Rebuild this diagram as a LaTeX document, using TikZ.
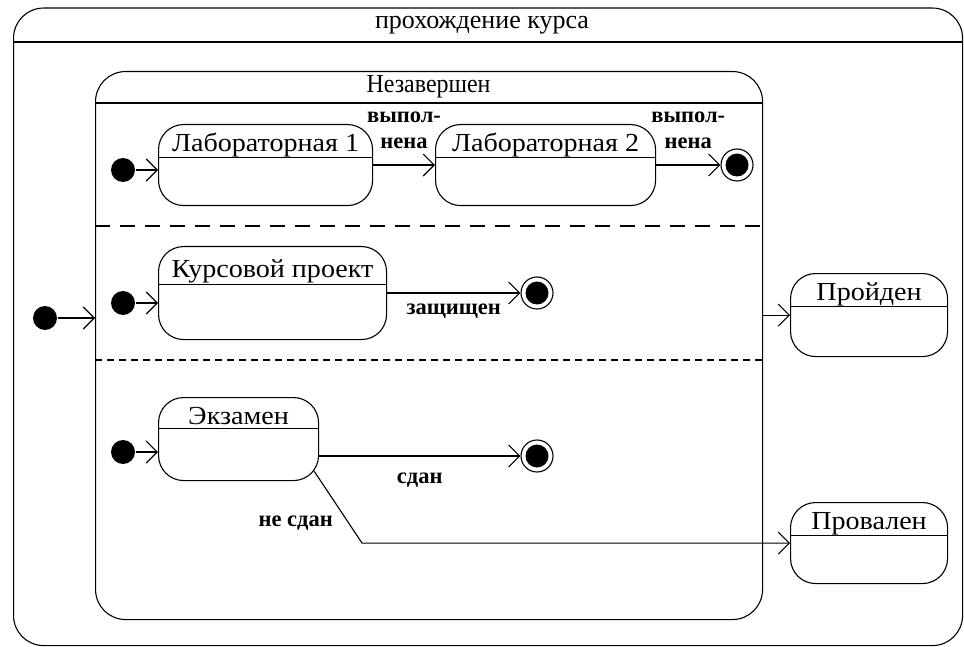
\documentclass[tikz,border=0pt]{standalone}
\usepackage{fontspec}
\setmainfont{Liberation Serif}
\newfontfamily\statefont{Liberation Serif}[FakeStretch=1.08]
\newfontfamily\narrowfont{Liberation Serif}[FakeStretch=0.92]
\usetikzlibrary{arrows.meta,positioning}
\begin{document}
\begin{tikzpicture}[
        x=1pt, y=-1pt,
        line width=1.1pt,
        font=\fontsize{26}{30}\selectfont,
        box/.style={draw, rounded corners=30pt, anchor=north west, inner sep=0pt},
        state/.style={draw, rounded corners=25pt, anchor=north west, inner sep=0pt,
            font=\statefont\fontsize{26}{30}\selectfont,
            text height=27pt, text depth=54pt,
            path picture={\draw[line width=1.3pt] ([yshift=-#1]path picture bounding box.north west) -- ([yshift=-#1]path picture bounding box.north east);}},
        state/.default=33pt,
        init/.style={circle, fill, inner sep=0pt, minimum size=24pt},
        final/.style={circle, draw, inner sep=0pt, minimum size=32pt,
            path picture={\fill (path picture bounding box.center) circle (11.5pt);}},
        trans/.style={-{Straight Barb[length=11pt,width=22pt]}},
        lbl/.style={font=\bfseries\fontsize{22.5}{26}\selectfont, align=center},
    ]
    \useasboundingbox (0,0) rectangle (964,647);
    \node[box, minimum width=949pt, minimum height=637.5pt] (course) at (13,7.5) {};
    \node[anchor=base] (coursetitle) at (482,29) {прохождение курса};
    \draw ([yshift=-34.5pt]course.north west) -- ([yshift=-34.5pt]course.north east);
    \node[box, minimum width=667pt, minimum height=548pt] (incomplete) at (95,71) {};
    \node[anchor=base, font=\narrowfont\fontsize{26}{30}\selectfont] (incompletetitle) at (428.5,93) {Незавершен};
    \draw ([yshift=-32pt]incomplete.north west) -- ([yshift=-32pt]incomplete.north east);
    \draw[dash pattern=on 15pt off 10pt] ([yshift=-155pt]incomplete.north west) -- ([yshift=-155pt]incomplete.north east);
    \draw[dash pattern=on 7pt off 5pt] ([yshift=-289pt]incomplete.north west) -- ([yshift=-289pt]incomplete.north east);

    \node[init] (start) at (45,318) {};
    \node[init] (labstart) at (123,170) {};
    \node[state, minimum width=214pt] (lab1) at (158,124) {Лабораторная 1};
    \node[state, minimum width=220pt] (lab2) at (435,124) {Лабораторная 2};
    \node[final] (labend) at (737,165) {};
    \node[init] (projstart) at (123,303) {};
    \node[state=38pt, minimum width=228pt, text height=31pt, text depth=62pt] (project) at (158,246) {Курсовой проект};
    \node[final] (projend) at (537,293) {};
    \node[init] (examstart) at (123,452) {};
    \node[state=31pt, minimum width=160pt, text depth=56pt] (exam) at (158,397) {Экзамен};
    \node[final] (examend) at (537,456) {};
    \node[state, minimum width=157pt, text depth=56pt] (passed) at (790,273) {Пройден};
    \node[state, minimum width=157pt] (failed) at (790,502) {Провален};
    \coordinate (examexit) at ([shift={(-5,32)}]exam.east);
    \coordinate (bend) at (362,0);

    \draw[trans] (start) -- (start -| incomplete.west);
    \draw[trans] (labstart) -- (labstart -| lab1.west);
    \draw[trans] (lab1) -- node[lbl, above=12pt] {выпол-\\нена} (lab2);
    \draw[trans] (lab2.east |- labend) -- node[lbl, above=12pt] {выпол-\\нена} (labend);
    \draw[trans] (projstart) -- (projstart -| project.west);
    \draw[trans] (project.east |- projend) -- node[lbl, below=7pt] {защищен} (projend);
    \draw[trans] (examstart) -- (examstart -| exam.west);
    \draw[trans] (exam.east |- examend) -- node[lbl, below=13pt] {сдан} (examend);
    \draw[trans] (examexit) -- node[lbl, left=12pt, pos=.72] {не сдан} (bend |- failed.west) -- (failed.west);
    \draw[trans] (passed.west -| incomplete.east) -- (passed.west);
\end{tikzpicture}
\end{document}
